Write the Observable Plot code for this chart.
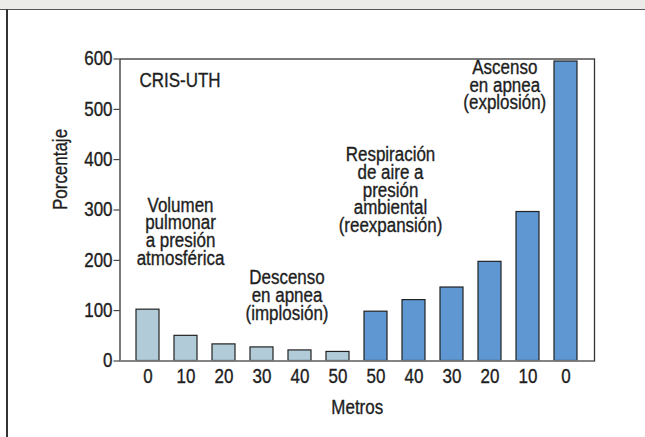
<!DOCTYPE html>
<html><head><meta charset="utf-8">
<script src="https://cdn.jsdelivr.net/npm/d3@7"></script>
<script src="https://cdn.jsdelivr.net/npm/@observablehq/plot@0.6"></script>
<style>
body{margin:0;background:#fff;}
#wrap{position:relative;width:645px;height:437px;overflow:hidden;background:#fff;}
#band{position:absolute;left:0;top:0;width:645px;height:9px;background:#ebebea;border-bottom:1.5px solid #555;}
#lborder{position:absolute;left:6px;top:9px;width:1.5px;height:428px;background:#333;}
#chart{position:absolute;left:0;top:0;}
</style></head><body>
<div id="wrap"><div id="band"></div><div id="lborder"></div><div id="chart"></div></div>
<script>
// Data
const depthLabels = ["0","10","20","30","40","50","50","40","30","20","10","0"];
const phases = ["Descenso","Descenso","Descenso","Descenso","Descenso","Descenso",
                "Ascenso","Ascenso","Ascenso","Ascenso","Ascenso","Ascenso"];
const values = [102, 50, 33, 27, 21, 18, 98, 121, 146, 197, 296, 595];
const yTicks = [0, 100, 200, 300, 400, 500, 600];
const phaseColors = ["#b1ccd8", "#5f97d2"];
const noteCris = "CRIS-UTH";
const noteVolumen = "Volumen\npulmonar\na presión\natmosférica";
const noteDescenso = "Descenso\nen apnea\n(implosión)";
const noteRespiracion = "Respiración\nde aire a\npresión\nambiental\n(reexpansión)";
const noteAscenso = "Ascenso\nen apnea\n(explosión)";
const yLabel = "Porcentaje";
const xLabel = "Metros";

const data = values.map((v, i) => ({i, v, phase: phases[i], label: depthLabels[i]}));
const FONT = '"Liberation Sans", Arial, sans-serif';
const FS = 19.5;
const LH = 0.91;
const SX = 0.87; // horizontal condensing of text, to mimic a condensed face

const chart = Plot.plot({
  width: 645,
  height: 437,
  marginLeft: 119.5,
  marginRight: 51,
  marginTop: 58.5,
  marginBottom: 76.5,
  style: {background: "transparent", fontFamily: FONT, fontSize: FS + "px", color: "#1e1e1e"},
  x: {type: "band", domain: d3.range(values.length), paddingInner: 0.39, paddingOuter: 0.35, axis: null},
  y: {domain: [0, 600], axis: null},
  color: {domain: ["Descenso", "Ascenso"], range: phaseColors},
  marks: [
    Plot.barY(data, {x: "i", y: "v", fill: "phase", stroke: "#222", strokeWidth: 1.2}),
    Plot.frame({stroke: "#333", strokeWidth: 1.3}),
    Plot.ruleY([0], {stroke: "#888", strokeWidth: 1.6}),
    Plot.axisY({ticks: yTicks, tickSize: 6, tickPadding: 1.5, label: null, fontSize: FS, stroke: "#222", fill: "#1e1e1e"}),
    Plot.axisX({tickSize: 0, tickPadding: 8, tickFormat: i => depthLabels[i], label: null, fontSize: FS, fill: "#1e1e1e"}),
    Plot.text([noteCris], {x: () => 0, y: () => 571, dx: -8.5, textAnchor: "start", lineAnchor: "top", fontSize: FS, fill: "#1e1e1e"}),
    Plot.text([noteVolumen], {x: () => 1, y: () => 322, dx: -5.5, lineAnchor: "top", lineHeight: LH, fontSize: FS, fill: "#1e1e1e"}),
    Plot.text([noteDescenso], {x: () => 3, y: () => 177.5, dx: 25, lineAnchor: "top", lineHeight: LH, fontSize: FS, fill: "#1e1e1e"}),
    Plot.text([noteRespiracion], {x: () => 6, y: () => 422, dx: 14.5, lineAnchor: "top", lineHeight: LH, fontSize: FS, fill: "#1e1e1e"}),
    Plot.text([noteAscenso], {x: () => 9, y: () => 595.5, dx: 14.8, lineAnchor: "top", lineHeight: LH, fontSize: FS, fill: "#1e1e1e"}),
    Plot.text([yLabel], {frameAnchor: "left", rotate: -90, dx: -59.7, fontSize: FS, fill: "#1e1e1e"}),
    Plot.text([xLabel], {frameAnchor: "bottom", dy: 53, fontSize: FS, fill: "#1e1e1e"})
  ]
});

// Condense every text horizontally about its own anchor point, and thicken it slightly
// (Plot places each text with a transform; x/y attributes are em offsets and are left alone).
chart.querySelectorAll("text").forEach(t => {
  const T = t.getAttribute("transform") || "";
  t.setAttribute("transform", `${T} scale(${SX},1)`);
  t.style.stroke = "#1e1e1e";
  t.style.strokeWidth = "0.35px";
  t.style.paintOrder = "stroke";
});

document.getElementById("chart").appendChild(chart);
</script>
</body></html>
